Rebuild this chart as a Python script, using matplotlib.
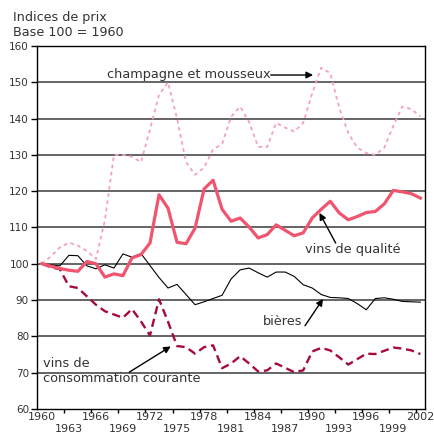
import matplotlib
matplotlib.use("Agg")
import matplotlib.pyplot as plt

# Price indices, base 100 = 1960
years = list(range(1960, 2003))

champagne = [100, 102, 104.5, 105.8, 105, 103.5, 101.3, 112, 130, 130, 129.5, 128,
             137, 146.5, 150, 140, 128, 124.5, 126.5, 131.5, 133, 140.5, 143.3, 139,
             132.2, 132.2, 138.8, 137.5, 136.4, 138.8, 147, 154, 152.5, 143, 136, 132,
             130.5, 130, 132, 138, 143.3, 142.6, 140.6]

qualite = [100, 99.3, 98.7, 98.2, 97.9, 100.6, 100, 96.3, 97.2, 96.7, 101.6, 102.5,
           105.7, 119, 115.3, 105.9, 105.5, 109.8, 120.6, 123, 115, 111.7, 112.6, 110.1,
           107.1, 108, 110.7, 109.2, 107.7, 108.5, 112.6, 115, 117.2, 114, 112.1, 113,
           114.1, 114.4, 116.5, 120.2, 119.8, 119.3, 118.1]

bieres = [100, 99.7, 99.4, 102.3, 102.2, 99.4, 98.6, 99.7, 98.8, 102.7, 101.8, 102.8,
          99.5, 96.2, 93.3, 94.3, 91.5, 88.7, 89.5, 90.4, 91.3, 95.8, 98.3, 98.8,
          97.5, 96.3, 97.7, 97.7, 96.5, 94.2, 93.3, 91.5, 90.7, 90.6, 90.4, 89,
          87.3, 90.4, 90.6, 90.2, 89.6, 89.5, 89.4]

courante = [100, 99, 98.5, 93.8, 93.3, 91, 88.7, 86.9, 86, 85.1, 87.5, 84.1,
            80.2, 90.2, 84, 77.3, 77, 75.2, 77, 77.5, 71.2, 72.5, 74.5, 72.5,
            70.3, 70.6, 72.5, 71.3, 70.1, 70.6, 75.8, 76.8, 76.1, 74.2, 72.2, 73.7,
            75.2, 75.1, 76, 76.9, 76.6, 76.1, 75.1]

label_years = list(range(1960, 2003, 3))
text_color = "#333333"

fig = plt.figure(figsize=(4.34, 4.34), dpi=100)
ax = fig.add_axes([0.086, 0.058, 0.893, 0.836])

for y in range(70, 160, 10):
    ax.axhline(y, color="#3a3a3a", lw=1.1, zorder=1)

ax.plot(years, champagne, color="#f4a3b6", lw=1.3, dashes=(2, 2), zorder=3)
ax.plot(years, bieres, color="black", lw=0.8, zorder=3)
ax.plot(years, courante, color="#a50b3c", lw=1.7, dashes=(3.5, 2), zorder=3)
ax.plot(years, qualite, color="#f0546f", lw=2.3, zorder=4)

ax.set_xlim(1959.5, 2002.5)
ax.set_ylim(60, 160)
ax.set_yticks(range(60, 161, 10))

# tick marks between categories, labels staggered on two rows
ax.set_xticks([y + 2.5 for y in label_years[:-1]])
ax.set_xticklabels([])
ax.tick_params(axis="x", which="major", direction="out", length=3, width=1)
ax.set_xticks(label_years, minor=True)
ax.set_xticklabels([str(y) if i % 2 == 0 else "\n" + str(y)
                    for i, y in enumerate(label_years)], minor=True)
ax.tick_params(axis="x", which="minor", length=0, pad=2, labelsize=8,
               labelcolor=text_color)
for t in ax.get_xticklabels(minor=True):
    t.set_linespacing(1.35)
ax.tick_params(axis="y", direction="out", length=4, width=1, labelsize=7.5,
               labelcolor=text_color, pad=2)
for sp in ax.spines.values():
    sp.set_linewidth(1)

fig.text(0.029, 0.942, "Indices de prix\nBase 100 = 1960", fontsize=9.2,
         color=text_color, va="center", ha="left", linespacing=1.25)

arrow = dict(arrowstyle="-|>", color="black", lw=1, mutation_scale=10,
             shrinkA=0, shrinkB=0)

ax.text(1967.2, 152.1, "champagne et mousseux", fontsize=9.3, color=text_color,
        va="center", ha="left")
ax.annotate("", xy=(1990.1, 152), xytext=(1985.4, 152), arrowprops=arrow)

ax.text(1994.5, 103.9, "vins de qualité", fontsize=9.3, color=text_color,
        va="center", ha="center")
ax.annotate("", xy=(1990.8, 114), xytext=(1992.6, 105.7), arrowprops=arrow)

ax.text(1986.75, 84.1, "bières", fontsize=9.3, color=text_color,
        va="center", ha="center")
ax.annotate("", xy=(1991.2, 90.3), xytext=(1989.2, 82.9), arrowprops=arrow)

ax.text(1960.1, 70.3, "vins de\nconsommation courante", fontsize=9.3,
        color=text_color, va="center", ha="left", linespacing=1.2)
ax.annotate("", xy=(1974.3, 77.2), xytext=(1969.7, 70.1), arrowprops=arrow)

fig.savefig("out.png", dpi=100)
